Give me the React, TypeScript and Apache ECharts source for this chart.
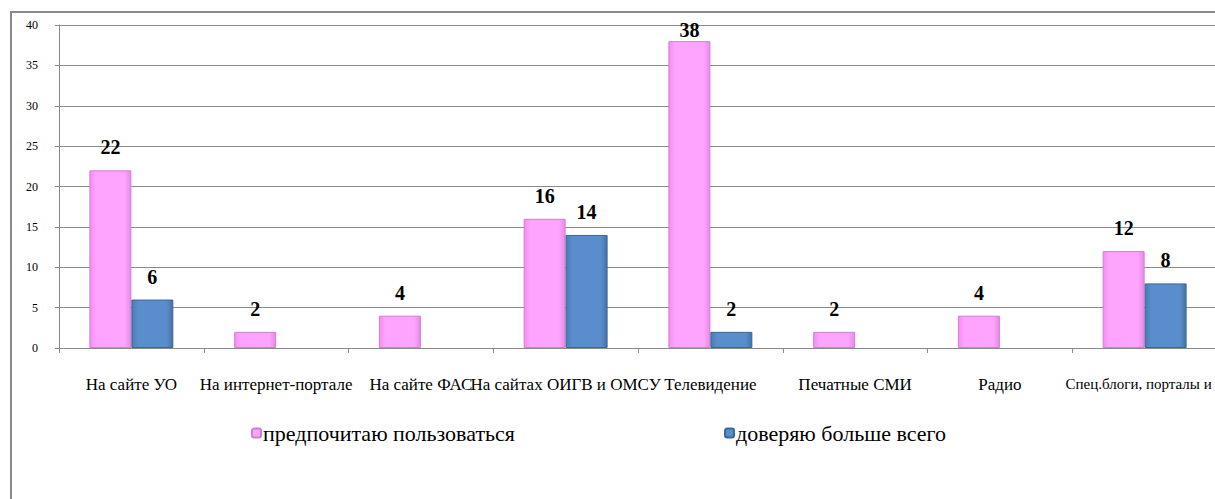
import React, { useEffect, useRef } from "react";
import * as echarts from "echarts";

const categories = [
  "На сайте УО",
  "На интернет-портале",
  "На сайте ФАС",
  "На сайтах ОИГВ и ОМСУ",
  "Телевидение",
  "Печатные СМИ",
  "Радио",
  "Спец.блоги, порталы и",
];
const seriesNames = ["предпочитаю пользоваться", "доверяю больше всего"];
const prefer = [22, 2, 4, 16, 38, 2, 4, 12];
const trust: (number | null)[] = [6, null, null, 14, 2, null, null, 8];

const FONT = "Liberation Serif, Times New Roman, DejaVu Serif, serif";

function mkData(vals: (number | null)[]) {
  return vals.map((v) =>
    v === 38 ? { value: v, label: { distance: 1 } } : v === null ? "-" : v
  );
}

export default function App() {
  const ref = useRef<HTMLDivElement>(null);
  useEffect(() => {
    if (!ref.current) return;
    const chart = echarts.init(ref.current, null, { renderer: "svg" });
    const pinkFill = new echarts.graphic.LinearGradient(0, 0, 1, 0, [
      { offset: 0, color: "#f58cf5" },
      { offset: 0.15, color: "#fea4fe" },
      { offset: 0.85, color: "#fea4fe" },
      { offset: 1, color: "#e58ae5" },
    ]);
    const blueFill = new echarts.graphic.LinearGradient(0, 0, 1, 0, [
      { offset: 0, color: "#4a7bb8" },
      { offset: 0.15, color: "#5a8dcc" },
      { offset: 0.85, color: "#5a8dcc" },
      { offset: 1, color: "#44729f" },
    ]);
    const labelStyle = {
      show: true,
      position: "top" as const,
      distance: 13,
      fontFamily: FONT,
      fontSize: 20,
      fontWeight: "bold" as const,
      color: "#000",
    };
    const legendText = { fontFamily: FONT, fontSize: 22, color: "#000", padding: [0, 0, 0, -3] };
    const catData = categories.map((c, i) =>
      i === categories.length - 1
        ? {
            value: c,
            textStyle: { fontFamily: FONT, fontSize: 15, color: "#000", padding: [0, 12, 0, 0] },
          }
        : c
    );
    chart.setOption({
      animation: false,
      backgroundColor: "#fff",
      textStyle: { fontFamily: FONT },
      grid: {
        left: 59,
        top: 25,
        width: 1158,
        height: 323,
        containLabel: false,
        outerBoundsMode: "none",
      },
      legend: [
        {
          data: [seriesNames[0]],
          left: 246,
          top: 417,
          itemWidth: 9,
          itemHeight: 9,
          textStyle: legendText,
        },
        {
          data: [seriesNames[1]],
          left: 719,
          top: 417,
          itemWidth: 9,
          itemHeight: 9,
          textStyle: legendText,
        },
      ],
      xAxis: {
        type: "category",
        data: catData,
        axisLine: { lineStyle: { color: "#8a8a8a", width: 1 } },
        axisTick: { show: true, length: 5, lineStyle: { color: "#8a8a8a" } },
        axisLabel: {
          interval: 0,
          margin: 28,
          fontFamily: FONT,
          fontSize: 17,
          color: "#000",
        },
      },
      yAxis: {
        type: "value",
        min: 0,
        max: 40,
        interval: 5,
        axisLine: { show: true, lineStyle: { color: "#8a8a8a", width: 1 } },
        axisTick: { show: true, length: 4, lineStyle: { color: "#8a8a8a" } },
        axisLabel: { margin: 21, fontFamily: FONT, fontSize: 12, color: "#000" },
        splitLine: { lineStyle: { color: "#8a8a8a", width: 1.2 } },
      },
      series: [
        {
          name: seriesNames[0],
          type: "bar",
          data: mkData(prefer),
          barWidth: "29%",
          barGap: "0%",
          itemStyle: { color: pinkFill, borderColor: "#cf7fcf", borderWidth: 1 },
          label: labelStyle,
        },
        {
          name: seriesNames[1],
          type: "bar",
          data: mkData(trust),
          barWidth: "29%",
          barGap: "0%",
          itemStyle: { color: blueFill, borderColor: "#3d6699", borderWidth: 1 },
          label: labelStyle,
        },
      ],
      graphic: [
        {
          type: "line",
          shape: { x1: 11, y1: 12, x2: 11, y2: 499 },
          style: { stroke: "#8a8a8a", lineWidth: 2 },
        },
        {
          type: "line",
          shape: { x1: 10, y1: 12, x2: 1215, y2: 12 },
          style: { stroke: "#8a8a8a", lineWidth: 2 },
        },
      ],
    });
    return () => chart.dispose();
  }, []);
  return (
    <div
      ref={ref}
      style={{ position: "fixed", left: 0, top: 0, width: 1215, height: 499 }}
    />
  );
}
